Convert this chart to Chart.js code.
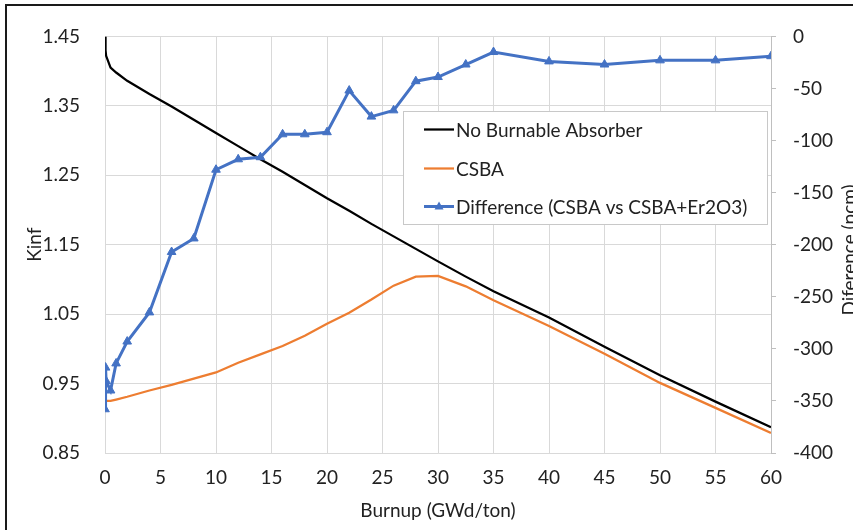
<!DOCTYPE html>
<html><head><meta charset="utf-8">
<script src="https://cdn.jsdelivr.net/npm/chart.js@4.4.1/dist/chart.umd.min.js"></script>
<style>
html,body{margin:0;padding:0;background:#fff;overflow:hidden;}
#wrap{position:relative;width:853px;height:530px;overflow:hidden;}
#frame{position:absolute;left:5px;top:4px;width:1000px;height:1000px;border:2px solid #1a1a1a;box-sizing:border-box;pointer-events:none;}
canvas{position:absolute;left:0;top:0;}
</style></head><body>
<div id="wrap"><canvas id="c" width="853" height="530"></canvas><div id="frame"></div></div>
<script>
const burnup   = [0,0.05,0.1,0.5,1,2,4,6,8,10,12,14,16,18,20,22,24,26,28,30,32.5,35,40,45,50,55,60];
const kinfNoBA = [1.45,1.43,1.422,1.405,1.398,1.386,1.367,1.349,1.330,1.311,1.292,1.273,1.255,1.236,1.217,1.199,1.180,1.162,1.144,1.126,1.104,1.083,1.045,1.003,0.962,0.924,0.887];
const kinfCSBA = [0.925,0.925,0.925,0.925,0.927,0.931,0.940,0.948,0.957,0.966,0.980,0.992,1.004,1.019,1.036,1.052,1.071,1.091,1.104,1.105,1.090,1.070,1.033,0.993,0.951,0.915,0.879];
const diffPcm  = [-358,-318,-331,-340,-314,-293,-265,-207,-194,-128,-118,-116,-94,-94,-92,-52,-77,-71,-43,-39,-27,-15,-24,-27,-23,-23,-19];
const leftTicks  = [0.85,0.95,1.05,1.15,1.25,1.35,1.45];
const rightTicks = [-400,-350,-300,-250,-200,-150,-100,-50,0];
const xTicks     = [0,5,10,15,20,25,30,35,40,45,50,55,60];
const seriesLabels = ['No Burnable Absorber','CSBA','Difference (CSBA vs CSBA+Er2O3)'];

const FONT = 'Lato';
const FS = 19;
const TXT = '#222';
const GRID = '#d9d9d9';

const pts = ys => burnup.map((x,i)=>({x:x,y:ys[i]}));

const boxLegend = {
  id:'boxLegend',
  afterDraw(chart){
    const ctx = chart.ctx;
    ctx.save();
    const bx=403.5, by=111.5, bw=364, bh=113;
    ctx.fillStyle='#fff'; ctx.fillRect(bx,by,bw,bh);
    ctx.strokeStyle='#c8c8c8'; ctx.lineWidth=1; ctx.strokeRect(bx,by,bw,bh);
    const rows=[129.5,168.5,206.5];
    ctx.font = FS+'px '+FONT;
    ctx.textBaseline='middle';
    ctx.textAlign='left';
    [0,1,2].forEach((di,k)=>{
      const ds = chart.data.datasets[di];
      const y = rows[k];
      ctx.strokeStyle = ds.borderColor;
      ctx.lineWidth = ds.borderWidth;
      ctx.beginPath(); ctx.moveTo(424,y); ctx.lineTo(454,y); ctx.stroke();
      if (ds.pointStyle==='triangle'){
        ctx.fillStyle=ds.borderColor;
        ctx.beginPath();
        ctx.moveTo(439,y-5); ctx.lineTo(443.5,y+3); ctx.lineTo(434.5,y+3); ctx.closePath(); ctx.fill();
      }
      ctx.fillStyle=TXT;
      ctx.fillText(ds.label,456,y+1);
    });
    // right axis title (rotated, partly cut at the edge as in the original)
    ctx.translate(856,250);
    ctx.rotate(-Math.PI/2);
    ctx.textAlign='center';
    ctx.textBaseline='alphabetic';
    ctx.fillStyle=TXT;
    ctx.fillText('Diference (pcm)',0,0);
    ctx.restore();
  }
};

new Chart(document.getElementById('c'),{
  type:'line',
  data:{datasets:[
    {label:seriesLabels[0],data:pts(kinfNoBA),yAxisID:'y',borderColor:'#000000',backgroundColor:'#000000',borderWidth:2.25,pointRadius:0,tension:0,order:2},
    {label:seriesLabels[1],data:pts(kinfCSBA),yAxisID:'y',borderColor:'#ED7D31',backgroundColor:'#ED7D31',borderWidth:2.25,pointRadius:0,tension:0,order:3},
    {label:seriesLabels[2],data:pts(diffPcm),yAxisID:'y2',borderColor:'#4472C4',backgroundColor:'#4472C4',borderWidth:3,pointStyle:'triangle',pointRadius:5,pointBorderWidth:1,tension:0,order:1}
  ]},
  options:{
    responsive:false,animation:false,devicePixelRatio:1,
    layout:{padding:{top:23,left:0,right:0,bottom:0}},
    plugins:{legend:{display:false},tooltip:{enabled:false}},
    scales:{
      x:{type:'linear',min:0,max:60,
        afterBuildTicks(s){s.ticks=xTicks.map(v=>({value:v}));},
        ticks:{padding:13,color:TXT,font:{family:FONT,size:FS},maxRotation:0,autoSkip:false},
        grid:{color:GRID,drawTicks:false},border:{color:GRID},
        title:{display:true,text:'Burnup (GWd/ton)',color:TXT,font:{family:FONT,size:FS},padding:{top:0,bottom:8}},
        afterFit(s){s.height=77;}},
      y:{type:'linear',position:'left',min:0.85,max:1.45,
        afterBuildTicks(s){s.ticks=leftTicks.map(v=>({value:v}));},
        ticks:{padding:25,color:TXT,font:{family:FONT,size:FS},callback:v=>Number(v).toFixed(2),autoSkip:false},
        grid:{color:GRID,drawTicks:false},border:{color:GRID},
        title:{display:true,text:'Kinf',color:TXT,font:{family:FONT,size:FS},padding:{top:23,bottom:0}},
        afterFit(s){s.width=105;}},
      y2:{type:'linear',position:'right',min:-400,max:0,
        afterBuildTicks(s){s.ticks=rightTicks.map(v=>({value:v}));},
        ticks:{padding:17,color:TXT,font:{family:FONT,size:FS},autoSkip:false},
        grid:{drawOnChartArea:false,color:'#bfbfbf',tickLength:5},border:{color:'#bfbfbf'},
        afterFit(s){s.width=82;}}
    }
  },
  plugins:[boxLegend]
});
</script>
</body></html>
